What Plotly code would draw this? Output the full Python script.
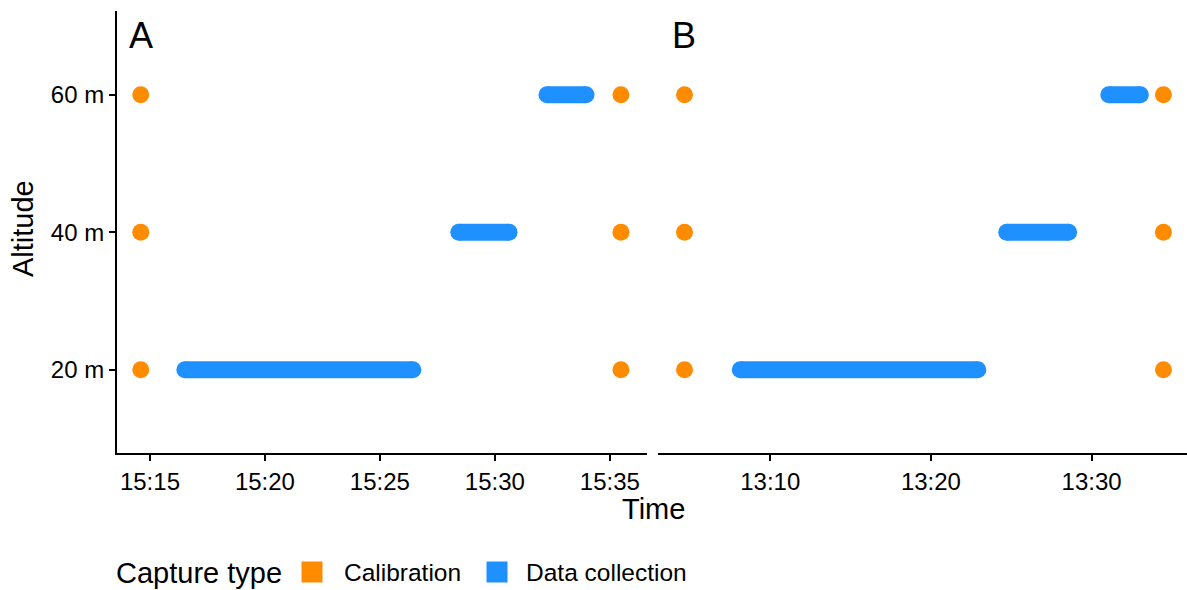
import plotly.graph_objects as go

# ---- data ----
altitudes = [20, 40, 60]
alt_labels = ["20 m", "40 m", "60 m"]

date_a = "2023-01-01"
date_b = "2023-01-02"

# Panel A (times HH:MM:SS)
calib_a = ["15:14:36", "15:35:29"]
collect_a_start = ["15:16:31", "15:28:26", "15:32:16"]
collect_a_end = ["15:26:26", "15:30:37", "15:33:58"]

# Panel B
calib_b = ["13:04:40", "13:34:28"]
collect_b_start = ["13:08:08", "13:24:43", "13:31:04"]
collect_b_end = ["13:22:55", "13:28:34", "13:33:02"]

legend_title = "Capture type"
legend_names = ["Calibration", "Data collection"]

ORANGE = "#FF8C00"
BLUE = "#1E90FF"
legend_colors = [ORANGE, BLUE]
FONT = "Liberation Sans, Arial, sans-serif"
DOT = 17

fig = go.Figure()


def add_panel(date, calib, cs, ce, xa, ya):
    # data collection segments
    xs, ys = [], []
    for s, e, alt in zip(cs, ce, altitudes):
        xs += [f"{date} {s}", f"{date} {e}", None]
        ys += [alt, alt, None]
    fig.add_trace(go.Scatter(
        x=xs, y=ys, mode="lines+markers", xaxis=xa, yaxis=ya,
        name=legend_names[1], legendgroup="dc",
        line=dict(color=BLUE, width=DOT),
        marker=dict(color=BLUE, size=DOT, line=dict(width=0)),
        showlegend=False, hoverinfo="skip"))
    # calibration points
    cx, cy = [], []
    for t in calib:
        for alt in altitudes:
            cx.append(f"{date} {t}")
            cy.append(alt)
    fig.add_trace(go.Scatter(
        x=cx, y=cy, mode="markers", xaxis=xa, yaxis=ya,
        name=legend_names[0], legendgroup="cal",
        marker=dict(color=ORANGE, size=DOT, line=dict(width=0)),
        showlegend=False, hoverinfo="skip"))


add_panel(date_a, calib_a, collect_a_start, collect_a_end, "x", "y")
add_panel(date_b, calib_b, collect_b_start, collect_b_end, "x2", "y2")

W, H = 1187, 590
L, R, T, B = 117, 0, 11, 137
pw = W - L - R
ph = H - T - B


def px(xp):
    return (xp - L) / pw


def py(yp):
    return (H - B - yp) / ph


axis_common = dict(
    showgrid=False, zeroline=False, showline=True, linecolor="black", linewidth=2,
    ticks="outside", ticklen=6, tickwidth=2, tickcolor="black",
    tickfont=dict(family=FONT, size=24, color="black"), tickformat="%H:%M",
)

annotations = [
    dict(text="A", x=px(127), y=py(35), xref="paper", yref="paper",
         xanchor="left", yanchor="middle", showarrow=False,
         font=dict(family=FONT, size=36, color="black")),
    dict(text="B", x=px(670), y=py(35), xref="paper", yref="paper",
         xanchor="left", yanchor="middle", showarrow=False,
         font=dict(family=FONT, size=36, color="black")),
    dict(text="Time", x=px(653), y=py(509), xref="paper", yref="paper",
         xanchor="center", yanchor="middle", showarrow=False,
         font=dict(family=FONT, size=29, color="black")),
    dict(text="Altitude", x=px(23), y=py(229), xref="paper", yref="paper",
         xanchor="center", yanchor="middle", showarrow=False, textangle=-90,
         font=dict(family=FONT, size=29, color="black")),
    # legend (drawn manually to match ggplot layout)
    dict(text=legend_title, x=px(114), y=py(573), xref="paper", yref="paper",
         xanchor="left", yanchor="middle", showarrow=False,
         font=dict(family=FONT, size=29, color="black")),
]
shapes = []
sq_centers = [312, 497]
txt_left = [342, 524]
for name, col, cx, tx in zip(legend_names, legend_colors, sq_centers, txt_left):
    shapes.append(dict(type="rect", xref="paper", yref="paper",
                       x0=px(cx - 10.5), x1=px(cx + 10.5), y0=py(572 + 10.5), y1=py(572 - 10.5),
                       fillcolor=col, line=dict(width=0)))
    annotations.append(dict(text=name, x=px(tx), y=py(572), xref="paper", yref="paper",
                            xanchor="left", yanchor="middle", showarrow=False,
                            font=dict(family=FONT, size=24.5, color="black")))

fig.update_layout(
    width=W, height=H,
    margin=dict(l=L, r=R, t=T, b=B, autoexpand=False),
    paper_bgcolor="white", plot_bgcolor="white",
    font=dict(family=FONT, color="black"),
    xaxis=dict(domain=[0, px(647)], anchor="y", type="date",
               range=[f"{date_a} 15:13:34", f"{date_a} 15:36:37"],
               dtick=300000, tick0=f"{date_a} 15:15:00", **axis_common),
    xaxis2=dict(domain=[px(658), 1], anchor="y2", type="date",
                range=[f"{date_b} 13:03:01", f"{date_b} 13:35:56"],
                dtick=600000, tick0=f"{date_b} 13:10:00", **axis_common),
    yaxis=dict(domain=[0, 1], range=[7.88, 72.2], tickvals=altitudes, ticktext=alt_labels,
               showgrid=False, zeroline=False, showline=True, linecolor="black", linewidth=2,
               ticks="outside", ticklen=6, tickwidth=2, tickcolor="black",
               tickfont=dict(family=FONT, size=24, color="black")),
    yaxis2=dict(domain=[0, 1], anchor="x2", matches="y", range=[7.88, 72.2],
                showgrid=False, zeroline=False, showline=False, showticklabels=False, ticks=""),
    showlegend=False,
    annotations=annotations,
    shapes=shapes,
)

fig.write_html("out.html")
